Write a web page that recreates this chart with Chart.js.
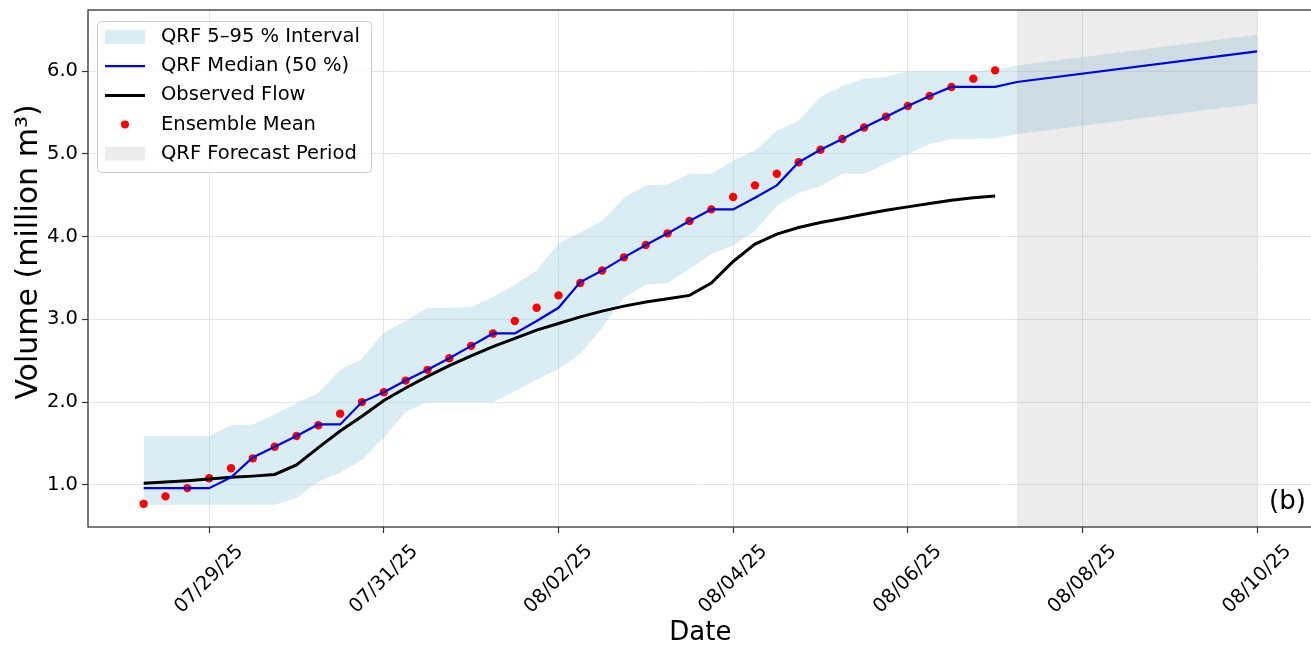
<!DOCTYPE html>
<html>
<head>
<meta charset="utf-8">
<script src="https://cdn.jsdelivr.net/npm/chart.js@4.4.1/dist/chart.umd.min.js"></script>
<style>
  html, body { margin: 0; padding: 0; background: #fff; overflow: hidden; }
  #wrap { width: 1317px; height: 646px; }
</style>
</head>
<body>
<div id="wrap"><canvas id="canvas_volume" width="1317" height="646"></canvas></div>
<script>
// time in days since 07/29/25 00:00 (6-hourly)
const times = [-0.75, -0.5, -0.25, 0, 0.25, 0.5, 0.75, 1, 1.25, 1.5,
  1.75, 2, 2.25, 2.5, 2.75, 3, 3.25, 3.5, 3.75, 4,
  4.25, 4.5, 4.75, 5, 5.25, 5.5, 5.75, 6, 6.25, 6.5,
  6.75, 7, 7.25, 7.5, 7.75, 8, 8.25, 8.5, 8.75, 9];

const ensembleMean = [0.77, 0.86, 0.96, 1.08, 1.20, 1.32, 1.46, 1.59, 1.72, 1.86,
  2.00, 2.12, 2.26, 2.39, 2.53, 2.68, 2.83, 2.98, 3.14, 3.29,
  3.44, 3.59, 3.75, 3.90, 4.04, 4.19, 4.33, 4.48, 4.62, 4.76,
  4.90, 5.05, 5.18, 5.32, 5.45, 5.58, 5.70, 5.81, 5.91, 6.01];

const observedFlow = [1.02, 1.035, 1.05, 1.07, 1.09, 1.105, 1.125, 1.24, 1.45, 1.65,
  1.83, 2.02, 2.17, 2.31, 2.44, 2.56, 2.67, 2.77, 2.87, 2.95,
  3.03, 3.10, 3.16, 3.21, 3.25, 3.29, 3.44, 3.70, 3.91, 4.03,
  4.11, 4.17, 4.22, 4.27, 4.32, 4.36, 4.40, 4.44, 4.47, 4.49];

const medianQrf = [0.96, 0.96, 0.96, 0.96, 1.09, 1.33, 1.46, 1.59, 1.73, 1.73,
  2.00, 2.12, 2.26, 2.39, 2.53, 2.68, 2.83, 2.83, 2.98, 3.14,
  3.45, 3.59, 3.75, 3.90, 4.04, 4.19, 4.33, 4.33, 4.47, 4.62,
  4.90, 5.05, 5.18, 5.32, 5.45, 5.58, 5.70, 5.81, 5.81, 5.81];

const upperQrf = [1.59, 1.59, 1.59, 1.59, 1.72, 1.73, 1.85, 1.99, 2.11, 2.39,
  2.52, 2.84, 2.98, 3.14, 3.14, 3.15, 3.27, 3.42, 3.59, 3.92,
  4.05, 4.19, 4.47, 4.62, 4.63, 4.76, 4.76, 4.92, 5.04, 5.28,
  5.40, 5.69, 5.82, 5.91, 5.93, 6.00, 6.00, 6.00, 6.00, 6.02];

const lowerQrf = [0.76, 0.76, 0.76, 0.76, 0.76, 0.76, 0.76, 0.84, 1.04, 1.15,
  1.30, 1.57, 1.88, 2.00, 2.00, 2.00, 2.00, 2.13, 2.27, 2.40,
  2.58, 2.90, 3.26, 3.42, 3.44, 3.61, 3.79, 3.89, 4.07, 4.37,
  4.53, 4.61, 4.76, 4.76, 4.88, 5.00, 5.12, 5.18, 5.18, 5.19];

// forecast period
const forecastTimes = [9.25, 12];
const medianForecast = [5.87, 6.24];
const upperForecast = [6.07, 6.44];
const lowerForecast = [5.24, 5.61];
const forecastPeriod = [9.25, 12];

const xTickDays = [0, 2, 4, 6, 8, 10, 12];
const xTickLabels = ['07/29/25', '07/31/25', '08/02/25', '08/04/25', '08/06/25', '08/08/25', '08/10/25'];
const yTicks = [1, 2, 3, 4, 5, 6];
const yTitle = 'Volume (million m³)';

const FONT = 'DejaVu Sans';
const bandColor = 'rgba(173, 216, 230, 0.45)';
const forecastColor = 'rgba(128, 128, 128, 0.15)';
const medianColor = '#0000e0';

function pts(xs, ys) {
  return xs.map((x, i) => ({x: x, y: ys[i]}));
}

// gray forecast span, drawn over the interval band
const forecastShade = {
  id: 'forecastShade',
  afterDatasetDraw(chart, args) {
    if (args.index !== 0) return;
    const {ctx, chartArea: a, scales: {x}} = chart;
    const x0 = x.getPixelForValue(forecastPeriod[0]);
    const x1 = x.getPixelForValue(forecastPeriod[1]);
    ctx.save();
    ctx.beginPath();
    ctx.rect(a.left, a.top, a.right - a.left, a.bottom - a.top);
    ctx.clip();
    ctx.fillStyle = forecastColor;
    ctx.fillRect(x0, a.top, x1 - x0, a.bottom - a.top);
    ctx.restore();
  }
};

// frame, legend box, y title and panel letter
const decorations = {
  id: 'decorations',
  afterDraw(chart) {
    const {ctx, chartArea: a} = chart;
    ctx.save();
    ctx.strokeStyle = '#333';
    ctx.lineWidth = 1.3;
    ctx.strokeRect(a.left, a.top, a.right - a.left, a.bottom - a.top);

    // legend
    const bx = a.left + 9, by = a.top + 11, bw = 274, bh = 151;
    ctx.beginPath();
    ctx.roundRect(bx + 0.5, by + 0.5, bw, bh, 4);
    ctx.fillStyle = 'rgba(255,255,255,0.8)';
    ctx.fill();
    ctx.strokeStyle = '#cccccc';
    ctx.lineWidth = 1;
    ctx.stroke();

    const items = [
      {text: chart.data.datasets[0].label, kind: 'patch', color: bandColor},
      {text: chart.data.datasets[4].label, kind: 'line', color: medianColor, width: 2.2},
      {text: chart.data.datasets[3].label, kind: 'line', color: '#000', width: 3},
      {text: chart.data.datasets[2].label, kind: 'dot', color: 'red'},
      {text: 'QRF Forecast Period', kind: 'patch', color: forecastColor}
    ];
    ctx.font = '19.5px "' + FONT + '"';
    ctx.textBaseline = 'middle';
    ctx.textAlign = 'left';
    items.forEach((it, k) => {
      const cy = by + 16 + k * 29.2;
      const hx = bx + 8;
      if (it.kind === 'patch') {
        ctx.fillStyle = it.color;
        ctx.fillRect(hx, cy - 7, 40, 14);
      } else if (it.kind === 'line') {
        ctx.strokeStyle = it.color;
        ctx.lineWidth = it.width;
        ctx.beginPath();
        ctx.moveTo(hx, cy);
        ctx.lineTo(hx + 40, cy);
        ctx.stroke();
      } else {
        ctx.fillStyle = it.color;
        ctx.beginPath();
        ctx.arc(hx + 20, cy, 4, 0, Math.PI * 2);
        ctx.fill();
      }
      ctx.fillStyle = '#000';
      ctx.fillText(it.text, bx + 64, cy);
    });

    ctx.font = '26px "' + FONT + '"';
    ctx.textAlign = 'right';
    ctx.fillStyle = '#000';
    ctx.fillText('(b)', a.right - 7, a.bottom - 25);

    // y axis title
    ctx.translate(29, 252);
    ctx.rotate(-Math.PI / 2);
    ctx.font = '30px "' + FONT + '"';
    ctx.textAlign = 'center';
    ctx.fillText(yTitle, 0, 0);
    ctx.restore();
  }
};

const data_volume = {
  datasets: [
    {
      label: 'QRF 5–95 % Interval',
      data: pts(times.concat(forecastTimes), upperQrf.concat(upperForecast)),
      backgroundColor: bandColor,
      borderWidth: 0,
      pointRadius: 0,
      fill: '+1',
      order: 6
    },
    {
      label: 'lower',
      data: pts(times.concat(forecastTimes), lowerQrf.concat(lowerForecast)),
      borderWidth: 0,
      pointRadius: 0,
      fill: false,
      order: 7
    },
    {
      label: 'Ensemble Mean',
      data: pts(times, ensembleMean),
      showLine: false,
      pointRadius: 4.2,
      pointBorderWidth: 0,
      pointBackgroundColor: 'red',
      order: 3
    },
    {
      label: 'Observed Flow',
      data: pts(times, observedFlow),
      borderColor: '#000',
      borderWidth: 3,
      pointRadius: 0,
      tension: 0,
      order: 2
    },
    {
      label: 'QRF Median (50 %)',
      data: pts(times.concat(forecastTimes), medianQrf.concat(medianForecast)),
      borderColor: medianColor,
      borderWidth: 2.2,
      pointRadius: 0,
      tension: 0,
      order: 1
    }
  ]
};

const config_volume = {
  type: 'line',
  data: data_volume,
  plugins: [forecastShade, decorations],
  options: {
    responsive: false,
    animation: false,
    layout: {padding: {top: 10, right: 2, left: 0, bottom: 0}},
    plugins: {legend: {display: false}, tooltip: {enabled: false}},
    scales: {
      x: {
        type: 'linear',
        min: -1.3875,
        max: 12.6375,
        afterBuildTicks: (axis) => { axis.ticks = xTickDays.map(v => ({value: v})); },
        afterFit: (scale) => { scale.height = 119; scale.paddingLeft = 0; scale.paddingRight = 0; },
        ticks: {
          callback: (v) => xTickLabels[xTickDays.indexOf(v)],
          minRotation: 45,
          maxRotation: 45,
          labelOffset: 31,
          padding: 7,
          color: '#000',
          font: {family: FONT, size: 19.5}
        },
        grid: {color: '#e4e4e4', lineWidth: 1, tickColor: '#333', tickLength: 6, tickWidth: 1.2},
        border: {display: false},
        title: {display: true, text: 'Date', color: '#000', font: {family: FONT, size: 26, lineHeight: 1}, padding: {top: 0, bottom: 0}}
      },
      y: {
        min: 0.49,
        max: 6.74,
        afterBuildTicks: (axis) => { axis.ticks = yTicks.map(v => ({value: v})); },
        afterFit: (scale) => { scale.width = 88; scale.paddingTop = 0; scale.paddingBottom = 0; },
        ticks: {
          callback: (v) => v.toFixed(1),
          padding: 4,
          color: '#000',
          font: {family: FONT, size: 19.5}
        },
        grid: {color: '#e4e4e4', lineWidth: 1, tickColor: '#333', tickLength: 6, tickWidth: 1.2},
        border: {display: false}
      }
    }
  }
};

const canvas_volume = document.getElementById('canvas_volume');
const chart_volume = new Chart(canvas_volume, config_volume);
</script>
</body>
</html>
